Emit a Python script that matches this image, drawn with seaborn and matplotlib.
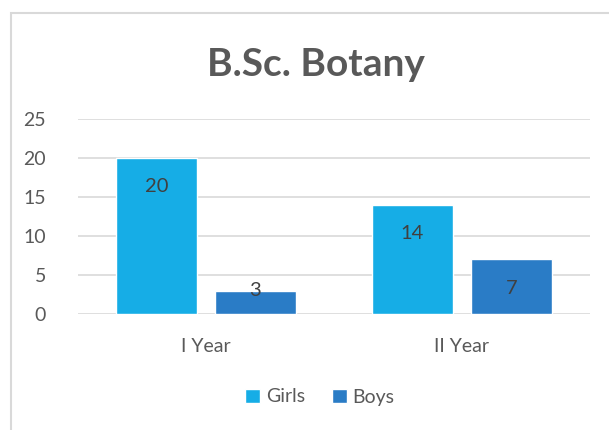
import matplotlib
matplotlib.use("Agg")
import matplotlib.pyplot as plt
from matplotlib.patches import Rectangle
import seaborn as sns
import pandas as pd

# chart data
years = ["I Year", "II Year"]
girls = [20, 14]
boys = [3, 7]
series = ["Girls", "Boys"]
colors = ["#16ade6", "#2a7cc6"]

df = pd.DataFrame({
    "Year": years * 2,
    "Count": girls + boys,
    "Group": [series[0]] * len(years) + [series[1]] * len(years),
})

sns.set_theme(style="white")
plt.rcParams["font.family"] = ["Lato", "DejaVu Sans"]

fig = plt.figure(figsize=(6.09, 4.30), dpi=100)
ax = fig.add_axes([78 / 609, 1 - 314 / 430, 512 / 609, 195 / 430])

sns.barplot(data=df, x="Year", y="Count", hue="Group", palette=colors,
            width=0.773, gap=0.18, ax=ax, legend=True, saturation=1)

# outer chart border
fig.patches.append(Rectangle((11 / 609, -0.1), 1.2, 1 - 13 / 430 + 0.1,
                             transform=fig.transFigure, fill=False,
                             edgecolor="#d9d9d9", linewidth=1.5))

ax.set_ylim(0, 25)
ax.set_xlim(-0.5, 1.5)
ax.set_yticks([0, 5, 10, 15, 20, 25])
ax.yaxis.grid(True, color="#d9d9d9", linewidth=1.2)
ax.set_axisbelow(True)
for s in ["top", "right", "left", "bottom"]:
    ax.spines[s].set_visible(False)
ax.tick_params(axis="both", length=0, labelsize=14, labelcolor="#595959")
ax.tick_params(axis="y", pad=23)
ax.tick_params(axis="x", pad=17)
ax.set_xlabel("")
ax.set_ylabel("")

# value labels inside the bars
for cont in ax.containers:
    for bar in cont:
        h = bar.get_height()
        off = -29 if h > 5 else 0
        ax.annotate(f"{h:g}", (bar.get_x() + bar.get_width() / 2, h),
                    xytext=(0, off * 0.72), textcoords="offset points",
                    ha="center", va="center", fontsize=14.5, color="#404040")

ax.set_title("")
fig.text(316 / 609, 1 - 64 / 430, "B.Sc. Botany", ha="center", va="center",
         fontsize=28, fontweight="bold", color="#595959")

handles, labels = ax.get_legend_handles_labels()
ax.legend_.remove()
fig.legend(handles, labels, loc="center", bbox_to_anchor=(320 / 609, 1 - 397 / 430),
           ncol=2, frameon=False, fontsize=14, labelcolor="#595959",
           handlelength=0.75, handleheight=0.75, handletextpad=0.3,
           columnspacing=1.4)

fig.savefig("out.png", dpi=100)
